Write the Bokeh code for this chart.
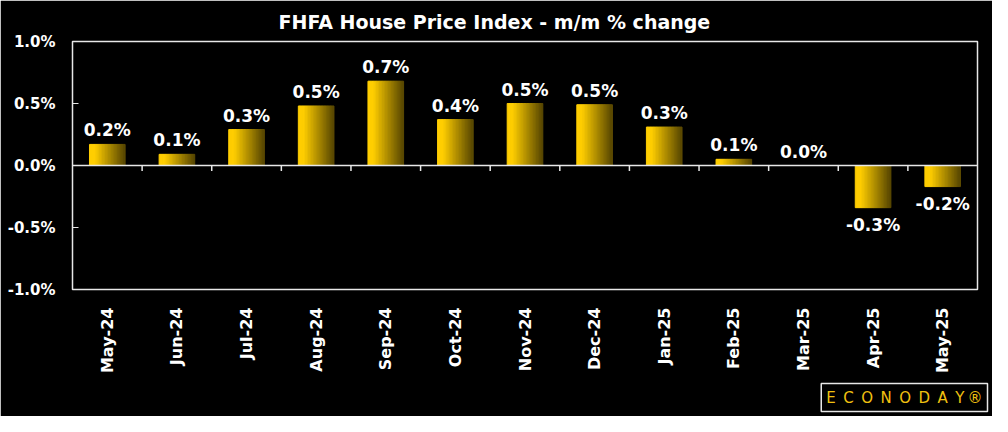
import math
from bokeh.plotting import figure
from bokeh.models import (Range1d, FixedTicker, PrintfTickFormatter, Span, Title,
                          ColumnDataSource)
from bokeh.core.properties import value
from bokeh.embed import file_html
from bokeh.resources import INLINE

# ---- data ----
months = ["May-24", "Jun-24", "Jul-24", "Aug-24", "Sep-24", "Oct-24", "Nov-24",
          "Dec-24", "Jan-25", "Feb-25", "Mar-25", "Apr-25", "May-25"]
values = [0.17, 0.09, 0.29, 0.48, 0.68, 0.37, 0.50, 0.49, 0.31, 0.05, 0.00, -0.34, -0.17]
labels = ["0.2%", "0.1%", "0.3%", "0.5%", "0.7%", "0.4%", "0.5%", "0.5%", "0.3%",
          "0.1%", "0.0%", "-0.3%", "-0.2%"]
y_ticks = [-1.0, -0.5, 0.0, 0.5, 1.0]
title_text = "FHFA House Price Index - m/m % change"
logo_text = "\u2002".join(list("ECONODAY")) + "\u2009®"

FONT = "DejaVu Sans"
n = len(months)
xs = list(range(n))

p = figure(width=992, height=416, output_backend="svg", toolbar_location=None,
           x_range=Range1d(-0.5, n - 0.5), y_range=Range1d(-1.0, 1.0),
           min_border_left=72, min_border_right=15, min_border_top=41,
           min_border_bottom=121)
p.background_fill_color = "black"
p.border_fill_color = "black"
p.outline_line_color = "#e8e8e8"
p.outline_line_width = 1.5
p.grid.visible = False

# title
p.title.text = title_text
p.title.align = "left"
p.title.offset = 206
p.title.text_color = "white"
p.title.text_font = FONT
p.title.text_font_style = "bold"
p.title.text_font_size = "19px"
p.title.standoff = 17

# logo as a title below
logo = Title(text=logo_text, align="right", offset=-10, text_color="#f0c010",
             text_font=FONT, text_font_size="15px", text_font_style="normal",
             border_line_color="#e8e8e8", border_line_width=1.5,
             background_fill_color="black", padding=5, standoff=10)
p.add_layout(logo, "below")

# gradient bars via thin strips
bar_w = 0.51
nstrips = 24
c0 = (255, 206, 0)
c1 = (92, 74, 0)
sx, stop, sbot, scol = [], [], [], []
sw = bar_w / nstrips
for i, v in zip(xs, values):
    for k in range(nstrips):
        t = k / (nstrips - 1)
        tt = max(0.0, (t - 0.15) / 0.85)
        col = tuple(int(round(c0[j] + (c1[j] - c0[j]) * tt)) for j in range(3))
        sx.append(i - bar_w / 2 + sw * (k + 0.5))
        stop.append(max(v, 0))
        sbot.append(min(v, 0))
        scol.append("#%02x%02x%02x" % col)
src = ColumnDataSource(dict(x=sx, top=stop, bottom=sbot, color=scol))
p.vbar(x="x", top="top", bottom="bottom", width=sw * 1.08, color="color", source=src)

# zero line and category ticks
p.add_layout(Span(location=0, dimension="width", line_color="#e8e8e8", line_width=1.5))
bx = [i + 0.5 for i in xs[:-1]]
p.segment(x0=bx, x1=bx, y0=[0] * len(bx), y1=[-0.045] * len(bx),
          line_color="#e8e8e8", line_width=1.5)

# value labels
pos_idx = [i for i, v in enumerate(values) if v >= 0]
neg_idx = [i for i, v in enumerate(values) if v < 0]
p.text(x=[xs[i] for i in pos_idx], y=[values[i] for i in pos_idx],
       text=[labels[i] for i in pos_idx], text_color="white",
       text_font=value(FONT), text_font_style="bold", text_font_size="17px",
       text_align="center", text_baseline="bottom", y_offset=-4)
p.text(x=[xs[i] for i in neg_idx], y=[values[i] for i in neg_idx],
       text=[labels[i] for i in neg_idx], text_color="white",
       text_font=value(FONT), text_font_style="bold", text_font_size="17px",
       text_align="center", text_baseline="top", y_offset=7)

# y axis
ya = p.yaxis[0]
ya.ticker = FixedTicker(ticks=y_ticks)
ya.formatter = PrintfTickFormatter(format="%.1f%%")
ya.major_tick_in = 6
ya.major_tick_out = 0
ya.minor_tick_line_color = None
ya.major_tick_line_color = "#e8e8e8"
ya.axis_line_color = "#e8e8e8"
ya.major_label_text_color = "white"
ya.major_label_text_font = FONT
ya.major_label_text_font_style = "bold"
ya.major_label_text_font_size = "15px"
ya.major_label_standoff = 17

# x axis
xa = p.xaxis[0]
xa.ticker = FixedTicker(ticks=xs)
xa.major_label_overrides = {i: m for i, m in zip(xs, months)}
xa.major_label_orientation = math.pi / 2
xa.major_tick_line_color = None
xa.minor_tick_line_color = None
xa.axis_line_color = None
xa.major_label_text_color = "white"
xa.major_label_text_font = FONT
xa.major_label_text_font_style = "bold"
xa.major_label_text_font_size = "16px"
xa.major_label_standoff = 12

open("out.html", "w").write(file_html(p, INLINE))
